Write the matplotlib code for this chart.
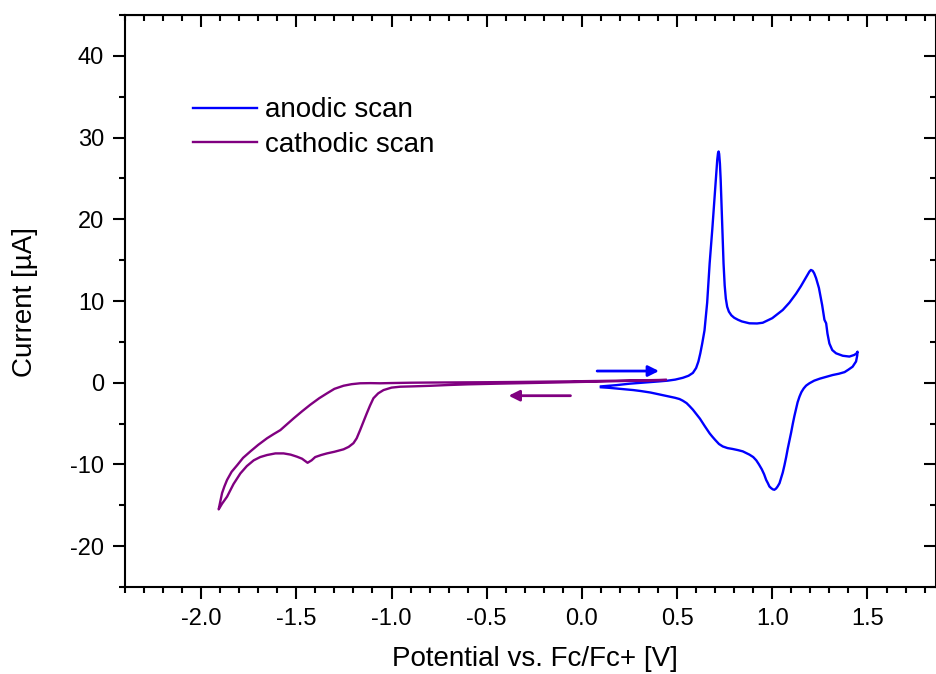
import matplotlib
matplotlib.use("Agg")
import matplotlib.pyplot as plt
from matplotlib.ticker import MultipleLocator, FormatStrFormatter

plt.rcParams['font.family'] = ['Liberation Sans', 'DejaVu Sans']

# Anodic scan: 0.10 V -> 1.45 V -> 0.10 V (potential in V, current in uA)
anodic_E = [0.10, 0.18, 0.25, 0.33, 0.40, 0.45, 0.49, 0.53, 0.56, 0.583, 0.60, 0.612,
            0.622, 0.632, 0.644, 0.658, 0.671, 0.685, 0.697, 0.705, 0.711, 0.715, 0.718,
            0.721, 0.725, 0.729, 0.732, 0.738, 0.744, 0.750, 0.756, 0.763, 0.772, 0.785,
            0.80, 0.82, 0.84, 0.88, 0.92, 0.95, 1.00, 1.055, 1.09, 1.125, 1.15, 1.17,
            1.185, 1.195, 1.203, 1.212, 1.22, 1.23, 1.245, 1.262, 1.274, 1.283, 1.29,
            1.30, 1.315, 1.335, 1.37, 1.405, 1.431, 1.443, 1.448,
            1.446, 1.44, 1.422, 1.40, 1.38, 1.35, 1.317, 1.28, 1.25, 1.22, 1.195, 1.178,
            1.165, 1.153, 1.143, 1.133, 1.125, 1.116, 1.108, 1.099, 1.09, 1.081, 1.073,
            1.064, 1.055, 1.046, 1.038, 1.028, 1.02, 1.011, 1.003, 0.994, 0.985, 0.977,
            0.968, 0.957, 0.945, 0.93, 0.916, 0.90, 0.88, 0.862, 0.845, 0.82, 0.79, 0.765,
            0.74, 0.72, 0.70, 0.685, 0.671, 0.645, 0.62, 0.60, 0.583, 0.565, 0.55, 0.53,
            0.513, 0.49, 0.46, 0.41, 0.36, 0.31, 0.27, 0.20, 0.14, 0.10]
anodic_I = [-0.45, -0.3, -0.12, 0.02, 0.15, 0.25, 0.38, 0.6, 0.85, 1.2, 1.8, 2.6,
            3.6, 4.8, 6.4, 9.8, 14.6, 18.8, 22.8, 25.4, 27.3, 28.1, 28.3,
            28.0, 26.8, 24.8, 22.8, 18.5, 14.6, 11.9, 10.3, 9.3, 8.7, 8.25,
            7.95, 7.7, 7.5, 7.27, 7.25, 7.34, 7.9, 8.9, 9.8, 10.9, 11.8, 12.6,
            13.2, 13.6, 13.8, 13.7, 13.4, 12.8, 11.6, 9.5, 7.7, 7.27, 6.0,
            4.8, 4.0, 3.6, 3.3, 3.2, 3.4, 3.6, 3.8,
            3.3, 2.6, 1.96, 1.6, 1.3, 1.1, 0.94, 0.7, 0.5, 0.25, -0.07, -0.35,
            -0.7, -1.15, -1.7, -2.4, -3.2, -4.1, -5.0, -6.1, -7.1, -8.1, -9.1,
            -10.1, -11.0, -11.7, -12.3, -12.7, -12.95, -13.1, -13.05, -12.9, -12.7, -12.3,
            -11.9, -11.2, -10.6, -10.0, -9.5, -9.1, -8.8, -8.6, -8.4, -8.25, -8.1, -8.0,
            -7.8, -7.5, -7.0, -6.6, -6.2, -5.3, -4.4, -3.8, -3.3, -2.85, -2.5, -2.2,
            -2.0, -1.85, -1.7, -1.45, -1.2, -1.02, -0.9, -0.75, -0.62, -0.56]

# Cathodic scan: 0.44 V -> -1.91 V -> 0.44 V
cathodic_E = [0.44, 0.30, 0.20, 0.10, 0.0, -0.15, -0.30, -0.45, -0.60, -0.70, -0.80,
              -0.88, -0.955, -1.00, -1.042, -1.07, -1.095, -1.113, -1.13, -1.148, -1.165,
              -1.183, -1.20, -1.225, -1.252, -1.30, -1.339, -1.37, -1.401, -1.42, -1.441,
              -1.47, -1.497, -1.53, -1.567, -1.61, -1.654, -1.69, -1.724, -1.76, -1.794,
              -1.83, -1.864, -1.89, -1.908,
              -1.90, -1.890, -1.878, -1.864, -1.84, -1.811, -1.78, -1.741, -1.70, -1.654,
              -1.62, -1.584, -1.55, -1.514, -1.47, -1.427, -1.38, -1.339, -1.30, -1.252,
              -1.21, -1.165, -1.11, -1.06, -1.00, -0.90, -0.80, -0.65, -0.50, -0.35,
              -0.20, -0.05, 0.10, 0.25, 0.35, 0.44]
cathodic_I = [0.33, 0.25, 0.2, 0.14, 0.1, 0.02, -0.05, -0.12, -0.2, -0.28, -0.38,
              -0.44, -0.49, -0.6, -0.9, -1.3, -1.9, -2.8, -3.75, -4.8, -5.8,
              -6.8, -7.4, -7.85, -8.15, -8.45, -8.65, -8.85, -9.1, -9.5, -9.8,
              -9.3, -9.05, -8.8, -8.65, -8.65, -8.85, -9.1, -9.5, -10.2, -11.1,
              -12.4, -13.95, -14.8, -15.5,
              -14.6, -13.5, -12.7, -11.9, -10.9, -10.1, -9.2, -8.4, -7.6, -6.8,
              -6.3, -5.8, -5.1, -4.36, -3.5, -2.7, -1.9, -1.3, -0.75, -0.37,
              -0.18, -0.07, -0.05, -0.07, -0.04, 0.0, 0.02, 0.04, 0.06, 0.09,
              0.13, 0.17, 0.22, 0.27, 0.31, 0.35]

series_labels = ["anodic scan", "cathodic scan"]
series_colors = ["#0000FF", "#800080"]

fig = plt.figure(figsize=(9.37, 6.74), dpi=100)
ax = fig.add_axes([125 / 937, 87 / 674, 811 / 937, 572 / 674])

ax.plot(anodic_E, anodic_I, color=series_colors[0], lw=1.7, label=series_labels[0],
        solid_joinstyle='round')
ax.plot(cathodic_E, cathodic_I, color=series_colors[1], lw=1.7, label=series_labels[1],
        solid_joinstyle='round')

# Scan direction arrows
ax.annotate('', xy=(0.405, 1.43), xytext=(0.08, 1.43),
            arrowprops=dict(arrowstyle='-|>', color=series_colors[0], lw=2,
                            mutation_scale=16, shrinkA=0, shrinkB=0))
ax.annotate('', xy=(-0.385, -1.59), xytext=(-0.06, -1.59),
            arrowprops=dict(arrowstyle='-|>', color=series_colors[1], lw=2,
                            mutation_scale=16, shrinkA=0, shrinkB=0))

ax.set_xlim(-2.4, 1.86)
ax.set_ylim(-25, 45)

ax.xaxis.set_major_locator(MultipleLocator(0.5))
ax.xaxis.set_minor_locator(MultipleLocator(0.1))
ax.yaxis.set_major_locator(MultipleLocator(10))
ax.yaxis.set_minor_locator(MultipleLocator(5))
ax.xaxis.set_major_formatter(FormatStrFormatter('%.1f'))
ax.yaxis.set_major_formatter(FormatStrFormatter('%d'))

for s in ax.spines.values():
    s.set_linewidth(1.5)

ax.tick_params(which='both', direction='out', top=False, right=False,
               labelsize=17, width=1.5)
ax.tick_params(which='major', length=8.5, pad=6.5)
ax.tick_params(which='minor', length=4.5)

# Inward ticks on the top and right edges
axt = ax.secondary_xaxis('top')
axt.xaxis.set_major_locator(MultipleLocator(0.5))
axt.xaxis.set_minor_locator(MultipleLocator(0.1))
axt.tick_params(which='both', direction='in', labeltop=False, width=1.5)
axt.tick_params(which='major', length=8.5)
axt.tick_params(which='minor', length=4.5)
axr = ax.secondary_yaxis('right')
axr.yaxis.set_major_locator(MultipleLocator(10))
axr.yaxis.set_minor_locator(MultipleLocator(5))
axr.tick_params(which='both', direction='in', labelright=False, width=1.5)
axr.tick_params(which='major', length=8.5)
axr.tick_params(which='minor', length=4.5)

ax.set_xlabel("Potential vs. Fc/Fc+ [V]", fontsize=20, va='center')
ax.set_ylabel("Current [µA]", fontsize=20, va='center')
ax.xaxis.set_label_coords(0.5055, -0.126)
ax.yaxis.set_label_coords(-0.1233, 0.4988)

ax.legend(loc='upper left', bbox_to_anchor=(0.0838, 0.856), frameon=False,
          fontsize=20, handlelength=2.3, handletextpad=0.29, labelspacing=0.31,
          borderaxespad=0, borderpad=0)

fig.savefig("out.png", dpi=100)
